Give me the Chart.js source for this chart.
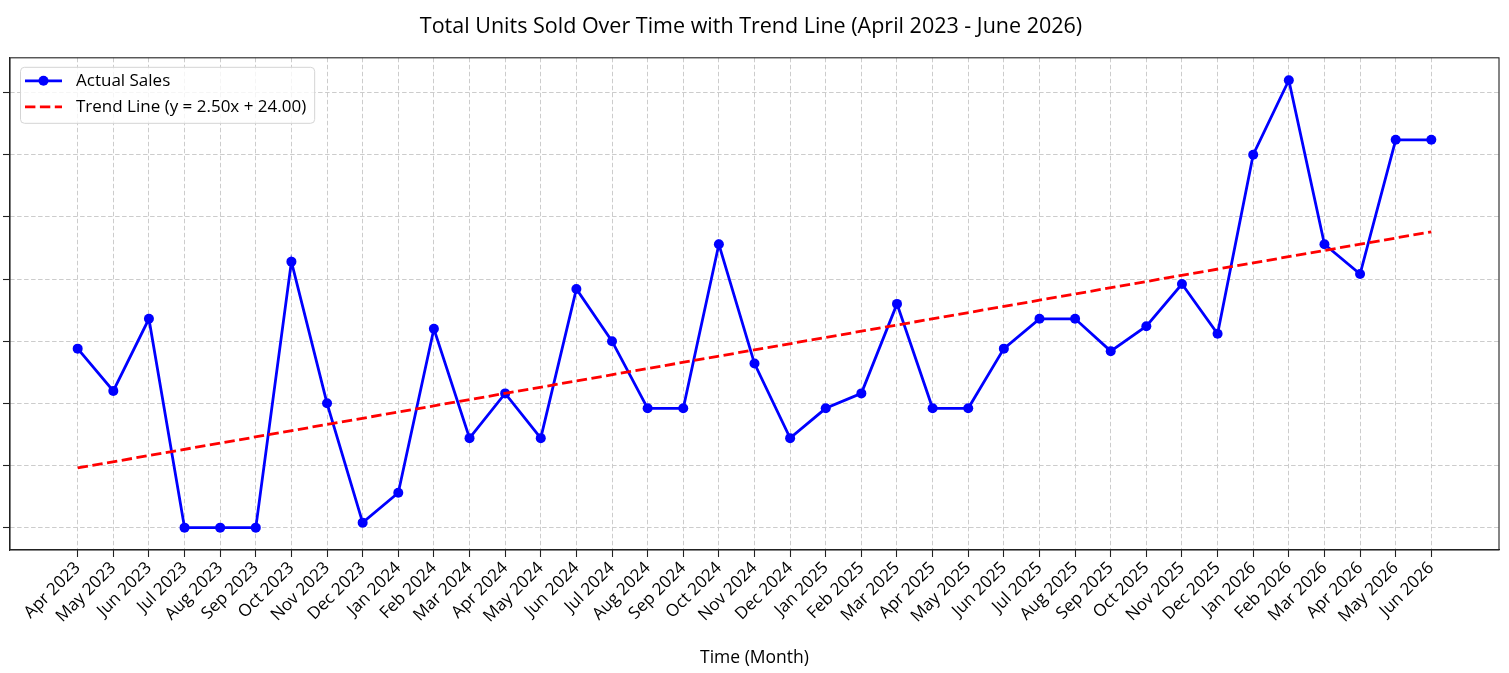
<!DOCTYPE html>
<html>
<head>
<meta charset="utf-8">
<title>Total Units Sold Over Time</title>
<script src="https://cdn.jsdelivr.net/npm/chart.js@4.4.1/dist/chart.umd.min.js"></script>
<style>
  html, body { margin: 0; padding: 0; background: #fff; }
  #wrap { width: 1509px; height: 673px; }
</style>
</head>
<body>
<div id="wrap"><canvas id="salesChart" width="1509" height="673"></canvas></div>
<script>
const months = [
    'Apr 2023', 'May 2023', 'Jun 2023', 'Jul 2023', 'Aug 2023', 'Sep 2023', 'Oct 2023', 'Nov 2023', 'Dec 2023',
    'Jan 2024', 'Feb 2024', 'Mar 2024', 'Apr 2024', 'May 2024', 'Jun 2024', 'Jul 2024', 'Aug 2024', 'Sep 2024',
    'Oct 2024', 'Nov 2024', 'Dec 2024', 'Jan 2025', 'Feb 2025', 'Mar 2025', 'Apr 2025', 'May 2025', 'Jun 2025',
    'Jul 2025', 'Aug 2025', 'Sep 2025', 'Oct 2025', 'Nov 2025', 'Dec 2025', 'Jan 2026', 'Feb 2026', 'Mar 2026',
    'Apr 2026', 'May 2026', 'Jun 2026'
];
const unitsSold = [
    72, 55, 84, 0, 0, 0, 107, 50, 2,
    14, 80, 36, 54, 36, 96, 75, 48, 48,
    114, 66, 36, 48, 54, 90, 48, 48, 72,
    84, 84, 71, 81, 98, 78, 150, 180, 114,
    102, 156, 156
];
// trend line end points (month index, units)
const trendX = [0, 38];
const trendY = [24, 119];
const yTicks = [0, 25, 50, 75, 100, 125, 150, 175];

const gridColor = '#cccccc';
const axisColor = '#222222';
const fontName = 'Open Sans';

// legend drawn inside the plot, top left
const insideLegend = {
    id: 'insideLegend',
    afterDraw(chart) {
        const { ctx, chartArea } = chart;
        const x = chartArea.left + 10;
        const y = chartArea.top + 9;
        ctx.save();
        ctx.font = '17px "' + fontName + '"';
        let maxW = 0;
        chart.data.datasets.forEach(ds => { maxW = Math.max(maxW, ctx.measureText(ds.label).width); });
        const w = 56 + maxW + 8;
        const h = 56;
        ctx.fillStyle = 'rgba(255,255,255,0.8)';
        ctx.strokeStyle = '#d4d4d4';
        ctx.lineWidth = 1;
        ctx.beginPath();
        ctx.roundRect(x + 0.5, y + 0.5, w, h, 4);
        ctx.fill();
        ctx.stroke();
        chart.data.datasets.forEach((ds, i) => {
            const rowY = y + 14 + i * 26;
            ctx.strokeStyle = ds.borderColor;
            ctx.lineWidth = ds.borderWidth;
            ctx.setLineDash(ds.borderDash || []);
            ctx.beginPath();
            ctx.moveTo(x + 5, rowY);
            ctx.lineTo(x + 42, rowY);
            ctx.stroke();
            ctx.setLineDash([]);
            if (ds.pointRadius) {
                ctx.fillStyle = ds.backgroundColor;
                ctx.beginPath();
                ctx.arc(x + 23.5, rowY, ds.pointRadius, 0, Math.PI * 2);
                ctx.fill();
            }
            ctx.fillStyle = '#000';
            ctx.textBaseline = 'middle';
            ctx.fillText(ds.label, x + 56, rowY);
        });
        ctx.restore();
    }
};

// full box around the plot area
const plotFrame = {
    id: 'plotFrame',
    afterDatasetsDraw(chart) {
        const { ctx, chartArea } = chart;
        ctx.save();
        ctx.strokeStyle = axisColor;
        ctx.lineWidth = 1.1;
        ctx.strokeRect(chartArea.left, chartArea.top, chartArea.right - chartArea.left, chartArea.bottom - chartArea.top);
        ctx.restore();
    }
};

Chart.defaults.font.family = fontName;
Chart.defaults.color = '#000';

const ctx = document.getElementById('salesChart').getContext('2d');
const salesChart = new Chart(ctx, {
    type: 'line',
    data: {
        datasets: [{
            label: 'Actual Sales',
            data: months.map((m, i) => ({ x: i, y: unitsSold[i] })),
            borderColor: '#0000ff',
            backgroundColor: '#0000ff',
            borderWidth: 2.8,
            pointRadius: 5,
            pointHoverRadius: 5,
            pointBorderWidth: 0,
            tension: 0,
            order: 2
        },
        {
            label: 'Trend Line (y = 2.50x + 24.00)',
            data: trendX.map((x, i) => ({ x: x, y: trendY[i] })),
            borderColor: '#ff0000',
            backgroundColor: '#ff0000',
            borderWidth: 2.8,
            borderDash: [10.4, 4.5],
            pointRadius: 0,
            pointHoverRadius: 0,
            tension: 0,
            order: 1
        }]
    },
    options: {
        responsive: false,
        animation: false,
        devicePixelRatio: 1,
        layout: { padding: { left: 3, right: 10, top: 0, bottom: 0 } },
        plugins: {
            legend: { display: false },
            tooltip: { enabled: false },
            title: {
                display: true,
                text: 'Total Units Sold Over Time with Trend Line (April 2023 - June 2026)',
                color: '#000',
                font: { size: 21.5, weight: 'normal' },
                padding: { top: 14, bottom: 18 }
            }
        },
        scales: {
            x: {
                type: 'linear',
                min: -1.9,
                max: 39.9,
                afterBuildTicks: (scale) => { scale.ticks = months.map((m, i) => ({ value: i })); },
                afterFit: (scale) => { scale.height = 123; },
                ticks: {
                    autoSkip: false,
                    maxRotation: 45,
                    minRotation: 45,
                    padding: 1,
                    color: '#000',
                    font: { size: 17 },
                    callback: (value) => months[value]
                },
                grid: {
                    color: gridColor,
                    lineWidth: 1,
                    tickLength: 7,
                    tickColor: axisColor,
                    tickWidth: 1.1,
                    tickBorderDash: []
                },
                border: { display: true, color: axisColor, width: 1.1, dash: [4.5, 2.5] },
                title: {
                    display: true,
                    text: 'Time (Month)',
                    color: '#000',
                    font: { size: 17.5 },
                    padding: { top: 4, bottom: 4 }
                }
            },
            y: {
                type: 'linear',
                min: -9,
                max: 189,
                afterBuildTicks: (scale) => { scale.ticks = yTicks.map(v => ({ value: v })); },
                afterFit: (scale) => { scale.width = 7; },
                ticks: { display: false },
                grid: {
                    color: gridColor,
                    lineWidth: 1,
                    tickLength: 7,
                    tickColor: axisColor,
                    tickWidth: 1.1,
                    tickBorderDash: []
                },
                border: { display: true, color: axisColor, width: 1.1, dash: [4.5, 2.5] }
            }
        }
    },
    plugins: [plotFrame, insideLegend]
});
</script>
</body>
</html>
